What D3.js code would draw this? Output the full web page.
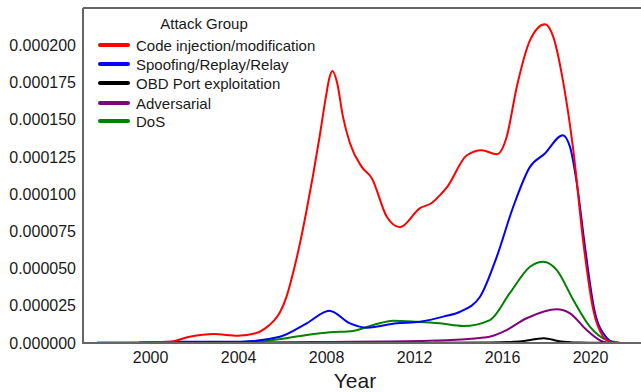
<!DOCTYPE html>
<html>
<head>
<meta charset="utf-8">
<script src="https://cdn.jsdelivr.net/npm/d3@7/dist/d3.min.js"></script>
<style>
  html, body { margin: 0; padding: 0; background: #fff; }
  svg { display: block; }
  text { font-family: "Liberation Sans", Arial, sans-serif; fill: #1a1a1a; }
</style>
</head>
<body>
<svg id="chart" width="641" height="392"></svg>
<script>
// Attack groups in legend order, with their line colours
const groups = ["Code injection/modification", "Spoofing/Replay/Relay", "OBD Port exploitation", "Adversarial", "DoS"];
const colors = ["#ff0000", "#0000ff", "#000000", "#800080", "#008000"];

// Kernel density estimates per group (year, density in units of 1e-6)
const codeYears = [1997.6, 1999.0, 2000.9, 2001.8, 2002.9, 2004.0, 2004.8, 2005.2, 2005.6, 2005.9, 2006.2, 2006.5, 2006.8, 2007.1, 2007.4, 2007.7, 2008.0, 2008.15, 2008.29, 2008.5, 2008.77, 2009.09, 2009.62, 2010.08, 2010.76, 2011.36, 2012.27, 2012.8, 2013.18, 2013.5, 2014.4, 2015.08, 2015.76, 2016.21, 2016.67, 2017.27, 2017.95, 2018.33, 2018.79, 2019.24, 2019.7, 2020.15, 2020.6, 2020.85, 2021.05];
const codeVals  = [0.3, 0.4, 0.9, 4.2, 6.0, 4.9, 6.5, 9.5, 14.5, 20.5, 31.0, 47.0, 66.0, 88.0, 112.0, 138.0, 166.0, 178.0, 182.7, 175.0, 151.9, 134.0, 118.3, 110.7, 84.8, 77.8, 90.6, 94.0, 99.3, 104.7, 126.1, 129.5, 126.8, 138.4, 172.0, 203.3, 214.1, 205.6, 174.5, 129.5, 67.1, 22.1, 4.2, 1.2, 0.3];

const spoofYears = [1999.5, 2001.1, 2004.1, 2005.9, 2007.12, 2008.15, 2009.09, 2009.85, 2011.21, 2012.27, 2013.33, 2014.09, 2015.0, 2015.76, 2016.51, 2017.27, 2017.95, 2018.76, 2019.09, 2019.4, 2019.75, 2020.2, 2020.76, 2021.05];
const spoofVals  = [0.3, 0.8, 0.9, 4.2, 13.2, 21.7, 13.2, 10.3, 13.2, 14.3, 17.7, 21.0, 31.1, 57.9, 91.5, 118.3, 127.3, 139.6, 131.7, 107.4, 67.1, 22.1, 3.4, 0.3];

const obdYears = [2012.9, 2015.5, 2016.8, 2017.9, 2018.6, 2019.5, 2020.6];
const obdVals  = [0.1, 0.3, 1.0, 3.2, 1.2, 0.3, 0.1];

const advYears = [2003.5, 2008.0, 2012.7, 2015.3, 2016.06, 2017.12, 2018.49, 2019.09, 2019.85, 2020.6, 2021.0];
const advVals  = [0.2, 0.7, 1.5, 3.8, 7.6, 16.6, 22.6, 19.9, 8.7, 0.9, 0.1];

const dosYears = [2003.5, 2005.6, 2007.12, 2008.18, 2009.23, 2010.15, 2011.06, 2012.12, 2013.18, 2014.24, 2015.45, 2016.36, 2017.27, 2017.88, 2018.49, 2019.24, 2020.0, 2020.76, 2021.36];
const dosVals  = [0.3, 2.0, 5.4, 7.2, 8.1, 12.1, 15.0, 14.3, 13.2, 11.4, 15.4, 33.6, 51.2, 54.6, 49.0, 28.9, 10.9, 2.0, 0.2];

const xTicks = [2000, 2004, 2008, 2012, 2016, 2020];
const yTicks = [0, 0.000025, 0.00005, 0.000075, 0.0001, 0.000125, 0.00015, 0.000175, 0.0002];

const seriesYears = [codeYears, spoofYears, obdYears, advYears, dosYears];
const seriesVals  = [codeVals, spoofVals, obdVals, advVals, dosVals];

const svg = d3.select("#chart");
const plot = { left: 83, top: 8, right: 645, bottom: 343 };

const x = d3.scaleLinear().domain([1996.95, 2022.5]).range([plot.left, plot.right]);
const y = d3.scaleLinear().domain([0, 0.000225]).range([plot.bottom, plot.top]);

const line = d3.line()
  .x(d => x(d[0]))
  .y(d => y(d[1] * 1e-6))
  .curve(d3.curveMonotoneX);

// Curves, drawn so that the first group ends up on top
const drawOrder = [4, 3, 2, 1, 0];
svg.append("g").selectAll("path")
  .data(drawOrder)
  .join("path")
  .attr("fill", "none")
  .attr("stroke", i => colors[i])
  .attr("stroke-width", 2)
  .attr("stroke-linejoin", "round")
  .attr("d", i => line(seriesYears[i].map((yr, k) => [yr, seriesVals[i][k]])));

// Frame: left, top and bottom spines
const spine = svg.append("g").attr("fill", "none").attr("stroke", "#666").attr("stroke-width", 2);
spine.append("path").attr("d", `M${plot.left},${plot.top}V${plot.bottom}H${plot.right + 2}`);
spine.append("path").attr("d", `M${plot.left},${plot.top}H${plot.right + 2}`);

// Axes
const xAxis = d3.axisBottom(x).tickValues(xTicks).tickFormat(d3.format("d")).tickSize(0).tickPadding(9);
const gx = svg.append("g").attr("transform", `translate(0,${plot.bottom})`).call(xAxis);
gx.select(".domain").remove();
gx.selectAll("text").attr("font-size", 16).attr("fill", "#1a1a1a")
  .attr("font-family", "'Liberation Sans', Arial, sans-serif");

const yAxis = d3.axisLeft(y).tickValues(yTicks).tickFormat(d3.format(".6f")).tickSize(0).tickPadding(7);
const gy = svg.append("g").attr("transform", `translate(${plot.left},0)`).call(yAxis);
gy.select(".domain").remove();
gy.selectAll("text").attr("font-size", 16).attr("fill", "#1a1a1a")
  .attr("font-family", "'Liberation Sans', Arial, sans-serif");

svg.append("text")
  .attr("x", 355).attr("y", 388)
  .attr("text-anchor", "middle")
  .attr("font-size", 21)
  .text("Year");

// Legend
const legend = svg.append("g").attr("transform", "translate(100,0)");
legend.append("text")
  .attr("x", 104).attr("y", 29)
  .attr("text-anchor", "middle")
  .attr("font-size", 15)
  .text("Attack Group");
const rowY = [45, 64, 83, 103, 121];
const rows = legend.selectAll("g.row")
  .data(groups)
  .join("g")
  .attr("class", "row")
  .attr("transform", (d, i) => `translate(0,${rowY[i]})`);
rows.append("line")
  .attr("x1", 0).attr("x2", 28)
  .attr("stroke", (d, i) => colors[i])
  .attr("stroke-width", 4)
  .attr("stroke-linecap", "round");
rows.append("text")
  .attr("x", 36).attr("y", 5.5)
  .attr("font-size", 15)
  .text(d => d);
</script>
</body>
</html>
